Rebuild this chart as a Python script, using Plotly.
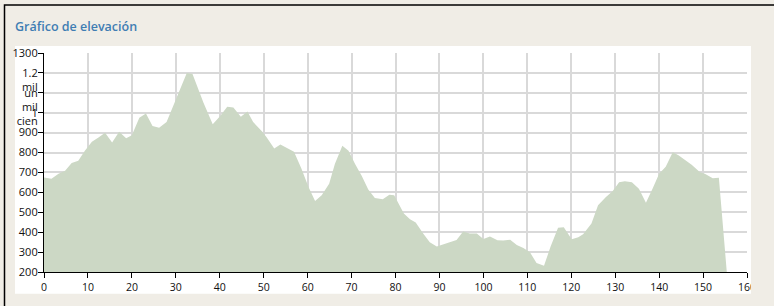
import plotly.graph_objects as go

# ---- data ----
distance_km = [0, 1.7, 3.3, 4.8, 6.3, 7.8, 9.3, 10.9, 12.4, 13.9, 15.5, 17.1, 18.7, 20.0, 21.7, 23.2,
               24.7, 26.2, 27.9, 29.8, 32.5, 33.8, 36.3, 38.4, 40.1, 41.7, 43.1, 44.8, 46.3, 47.6,
               49.7, 50.7, 52.4, 53.8, 56.9, 58.6, 60.2, 61.7, 63.2, 64.9, 66.2, 67.9, 69.3, 70.8,
               72.3, 73.8, 75.3, 77.1, 78.6, 79.7, 81.9, 83.3, 84.6, 86.3, 87.8, 89.4, 90.9, 92.4,
               93.9, 95.4, 96.9, 98.5, 100.0, 101.5, 103.2, 104.5, 106.1, 107.6, 109.1, 110.6, 112.1,
               113.8, 115.3, 117.0, 118.3, 120.1, 121.6, 122.7, 124.6, 126.1, 127.9, 129.4, 130.9,
               132.2, 133.8, 135.4, 137.0, 138.5, 140.0, 141.5, 143.1, 144.4, 145.9, 147.4, 149.3,
               150.4, 152.2, 153.6, 155.4]
elevation_m = [675, 668, 693, 709, 748, 759, 809, 854, 875, 900, 850, 905, 872, 887, 975, 996,
               933, 925, 953, 1058, 1199, 1195, 1050, 942, 983, 1030, 1026, 980, 1006, 953,
               904, 875, 820, 840, 804, 718, 627, 557, 585, 643, 743, 834, 809, 743,
               684, 615, 572, 565, 588, 585, 494, 465, 449, 394, 349, 328, 339, 349,
               361, 403, 393, 394, 366, 378, 359, 358, 362, 336, 321, 299, 245,
               231, 328, 422, 425, 364, 374, 389, 444, 535, 577, 605, 651,
               656, 651, 618, 548, 618, 693, 729, 801, 787, 764, 739, 701,
               693, 671, 673, 200]

x_ticks = list(range(0, 161, 10))
y_ticks = [200, 300, 400, 500, 600, 700, 800, 900, 1000, 1100, 1200, 1300]
y_tick_lines = [["200"], ["300"], ["400"], ["500"], ["600"], ["700"], ["800"], ["900"],
                ["1"], ["un", "mil", "cien"], ["1.2", "mil"], ["1300"]]
title_text = "Gráfico de elevación"

# first line of each label sits on its tick (pad with blank lines above)
y_tick_text = ["<br>".join(["&nbsp;"] * (len(l) - 1) + l) for l in y_tick_lines]

BEIGE = "#f0ede6"
PL, PR, PT, PB = 44, 27, 53, 32
W, H = 774, 306
pw, ph = W - PL - PR, H - PT - PB


def px(v):
    return (v - PL) / pw


def py(v):
    return (H - PB - v) / ph


fig = go.Figure()
fig.add_trace(go.Scatter(
    x=distance_km, y=elevation_m, mode="lines", fill="tozeroy",
    line=dict(width=0, color="#ccd8c5"), fillcolor="#ccd8c5", hoverinfo="skip",
    showlegend=False))

font_family = "Open Sans, Noto Sans, sans-serif"

fig.update_layout(
    width=W, height=H,
    margin=dict(l=PL, r=PR, t=PT, b=PB, pad=0),
    paper_bgcolor=BEIGE, plot_bgcolor="white",
    showlegend=False,
    font=dict(family=font_family, size=10.5, color="#111111"),
    xaxis=dict(range=[0, 160], tickvals=x_ticks, ticktext=[str(v) for v in x_ticks],
               showgrid=True, gridcolor="#d9d9d9", gridwidth=1.5,
               showline=True, linecolor="black", linewidth=1.2,
               ticks="outside", ticklen=5, tickcolor="black", tickwidth=1.2,
               zeroline=False, fixedrange=True),
    yaxis=dict(range=[200, 1300], tickvals=y_ticks, ticktext=y_tick_text,
               tickfont=dict(size=11),
               showgrid=True, gridcolor="#d9d9d9", gridwidth=1.5,
               showline=True, linecolor="black", linewidth=1.2,
               ticks="outside", ticklen=5, tickcolor="black", tickwidth=1.2,
               ticklabelstandoff=-2,
               zeroline=False, fixedrange=True),
    shapes=[
        # white chart panel
        dict(type="rect", xref="paper", yref="paper", layer="below",
             x0=px(15), x1=px(751), y0=py(296), y1=py(46),
             fillcolor="white", line=dict(width=0)),
        # hide gridline at right edge
        dict(type="rect", xref="paper", yref="paper", layer="between",
             x0=px(746), x1=px(749), y0=py(274), y1=py(50),
             fillcolor="white", line=dict(width=0)),
        # outer frame
        dict(type="rect", xref="paper", yref="paper", layer="below",
             x0=px(4.5), x1=px(820), y0=py(330), y1=py(4.5),
             fillcolor="rgba(0,0,0,0)", line=dict(color="black", width=1.5)),
        # clip overflow of last x tick label
        dict(type="rect", xref="paper", yref="paper", layer="above",
             x0=px(751), x1=px(790), y0=py(300), y1=py(276),
             fillcolor=BEIGE, line=dict(width=0)),
    ],
    annotations=[
        dict(text=title_text, xref="paper", yref="paper", x=px(13), y=py(26),
             xanchor="left", yanchor="middle", showarrow=False,
             font=dict(family=font_family, size=12.5, color="#3f7db3", weight=600)),
    ],
)

fig.write_html("out.html")
